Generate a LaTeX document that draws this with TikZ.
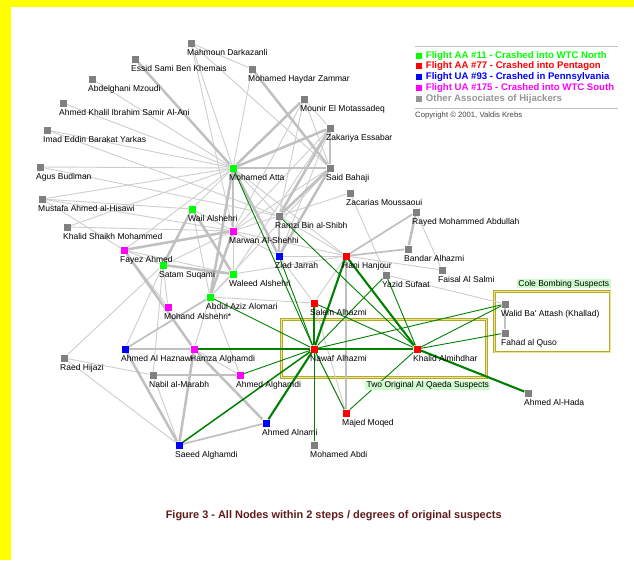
\documentclass[tikz,border=0pt]{standalone}
\usepackage{fontspec}
\setmainfont{Liberation Sans}
\newfontfamily\labfont{Liberation Sans}
\pgfdeclarelayer{paper}
\pgfdeclarelayer{edges}
\pgfsetlayers{paper,edges,main}

\definecolor{ngreen}{RGB}{0,255,0}
\definecolor{nred}{RGB}{255,0,0}
\definecolor{nblue}{RGB}{0,0,255}
\definecolor{nmag}{RGB}{255,0,255}
\definecolor{ngray}{RGB}{128,128,128}
\definecolor{tgray}{RGB}{150,150,150}
\definecolor{lgray}{RGB}{206,206,206}
\definecolor{hgray}{RGB}{192,192,192}
\definecolor{dgreen}{RGB}{0,128,0}
\definecolor{oliveA}{RGB}{180,170,40}
\definecolor{oliveB}{RGB}{235,230,150}
\definecolor{tagbg}{RGB}{206,250,206}
\definecolor{capcol}{RGB}{96,26,26}
\definecolor{yel}{RGB}{255,255,0}
\definecolor{rulecol}{RGB}{192,192,192}

\tikzset{
  sq/.style={rectangle, minimum size=7pt, inner sep=0pt, draw=none},
  lbl/.style={anchor=base west, inner sep=0pt, font=\labfont\fontsize{8.5}{10}\selectfont},
  gl/.style={draw=lgray, line width=0.9pt},
  gm/.style={draw=hgray, line width=1.7pt},
  gh/.style={draw=hgray, line width=2.5pt},
  el/.style={draw=dgreen, line width=0.9pt},
  em/.style={draw=dgreen, line width=1.5pt},
  eh/.style={draw=dgreen, line width=2.1pt},
  tag/.style={fill=tagbg, inner xsep=1.5pt, inner ysep=0.6pt, font=\labfont\fontsize{8.5}{10}\selectfont},
  legsq/.style={rectangle, minimum size=6pt, inner sep=0pt},
  legtxt/.style={anchor=west, inner sep=0pt, font=\labfont\bfseries\fontsize{9.6}{11}\selectfont},
}

% a person: square marker plus its name below right
\newcommand\person[5]{%
  \node[sq, fill=#4] (#1) at (#2,#3) {};
  \node[lbl] (#1-t) at (#2-4,#3+12) {#5};
}

\begin{document}
\begin{tikzpicture}[x=1pt,y=-1pt]
\useasboundingbox (0,0) rectangle (634,560);
\begin{pgfonlayer}{paper}
  \fill[white] (0,0) rectangle (634,560);
  \fill[yel] (0,0) rectangle (11,560);
  \fill[yel] (0,0) rectangle (634,7);
\end{pgfonlayer}

% people
\person{md}{191}{43}{ngray}{Mahmoun Darkazanli}
\person{es}{135}{59}{ngray}{Essid Sami Ben Khemais}
\person{mz}{252}{69}{ngray}{Mohamed Haydar Zammar}
\person{am}{92}{79}{ngray}{Abdelghani Mzoudi}
\person{mm}{304}{99}{ngray}{Mounir El Motassadeq}
\person{ak}{63}{103}{ngray}{Ahmed Khalil Ibrahim Samir Al-Ani}
\person{ze}{330}{128}{ngray}{Zakariya Essabar}
\person{iy}{47}{130}{ngray}{Imad Eddin Barakat Yarkas}
\person{ab}{40}{167}{ngray}{Agus Budiman}
\person{ma}{233}{168}{ngreen}{Mohamed Atta}
\person{sb}{330}{168}{ngray}{Said Bahaji}
\person{zm}{350}{193}{ngray}{Zacarias Moussaoui}
\person{mh}{42}{199}{ngray}{Mustafa Ahmed al-Hisawi}
\person{wa}{192}{209}{ngreen}{Wail Alshehri}
\person{ra}{416}{212}{ngray}{Rayed Mohammed Abdullah}
\person{rb}{279}{216}{ngray}{Ramzi Bin al-Shibh}
\person{ks}{67}{227}{ngray}{Khalid Shaikh Mohammed}
\person{ms}{233}{231}{nmag}{Marwan Al-Shehhi}
\person{fa}{124}{250}{nmag}{Fayez Ahmed}
\person{ba}{408}{249}{ngray}{Bandar Alhazmi}
\person{zj}{279}{256}{nblue}{Ziad Jarrah}
\person{hh}{346}{256}{nred}{Hani Hanjour}
\person{ss}{163}{265}{ngreen}{Satam Suqami}
\person{fs}{442}{270}{ngray}{Faisal Al Salmi}
\person{ys}{386}{275}{ngray}{Yazid Sufaat}
\person{ws}{233}{274}{ngreen}{Waleed Alshehri}
\person{aa}{210}{297}{ngreen}{Abdul Aziz Alomari}
\person{sh}{314}{303}{nred}{Salem Alhazmi}
\person{mo}{168}{307}{nmag}{Mohand Alshehri*}
\person{wb}{505}{304}{ngray}{Walid Ba' Attash (Khallad)}
\person{fq}{505}{333}{ngray}{Fahad al Quso}
\person{ah}{125}{349}{nblue}{Ahmed Al Haznawi}
\person{ha}{194}{349}{nmag}{Hamza Alghamdi}
\person{na}{314}{349}{nred}{Nawaf Alhazmi}
\person{ka}{417}{349}{nred}{Khalid Almihdhar}
\person{rh}{64}{358}{ngray}{Raed Hijazi}
\person{nm}{153}{375}{ngray}{Nabil al-Marabh}
\person{ag}{240}{375}{nmag}{Ahmed Alghamdi}
\person{hd}{528}{393}{ngray}{Ahmed Al-Hada}
\person{mq}{346}{413}{nred}{Majed Moqed}
\person{an}{266}{423}{nblue}{Ahmed Alnami}
\person{sa}{179}{445}{nblue}{Saeed Alghamdi}
\person{mb}{314}{445}{ngray}{Mohamed Abdi}

\begin{pgfonlayer}{edges}
  % suspect groups
  \draw[oliveA, line width=2.6pt] (281.7,319.3) rectangle (486.7,377.7);
  \draw[oliveB, line width=0.8pt] (281.7,319.3) rectangle (486.7,377.7);
  \draw[oliveA, line width=2.6pt] (494.3,291.3) rectangle (610,352);
  \draw[oliveB, line width=0.8pt] (494.3,291.3) rectangle (610,352);

  % weak ties
  \foreach \a/\b in {md/mz, md/ma, md/sb, md/ms, am/ma, ak/ma, iy/ma, iy/rb,
      ab/ma, ab/rb, mh/ma, mh/fa, mh/ms, mh/wa, ks/ms, ks/ma, mz/ma,
      mm/sb, mm/ze, mm/rb, mm/ms, ze/ms, ze/zj, ze/ws, ma/rb, ma/wa, ma/fa,
      ma/hh, sb/ms, sb/aa, rb/ms, rb/hh, zm/rb, zm/ys, ms/zj, ms/ws, ms/wa,
      ms/ss, ms/hh, wa/aa, ss/mo, ss/nm, ss/ah, rh/ss, fa/ws, fa/ss, fa/mo,
      ws/aa, ws/hh, aa/ha, aa/ag, aa/sh, ha/ag, sa/rh, sa/nm, rh/nm, hh/zj,
      hh/fs, hh/sh, ra/fs, ys/wb, sh/mq, sh/zj}
    \draw[gl] (\a) -- (\b);
  % medium ties
  \foreach \a/\b in {ah/aa, sa/an, nm/ag, hh/ra, hh/ba}
    \draw[gm] (\a) -- (\b);
  % strong ties
  \foreach \a/\b in {ma/sb, ma/ze, ma/mm, es/ma, ma/ms, ma/aa, ma/zj, ze/sb,
      mz/sb, sb/rb, sb/zj, ze/rb, rb/zj, ms/aa, ms/fa, wa/ss, wa/ws, ss/ws,
      fa/ha, ha/an, ha/sa, ah/ha, ah/sa, hh/mq, ra/ba, wb/fq}
    \draw[gh] (\a) -- (\b);
  % ties of the original suspects
  \foreach \a/\b in {ma/na, zj/na, aa/na, ag/na, mb/na, mq/na, ys/na, ys/ka,
      wb/na, wb/ka, fq/ka, sh/ka, mq/ka, rb/ka}
    \draw[el] (\a) -- (\b);
  \draw[em] (sa) -- (na);
  \foreach \a/\b in {ha/na, na/ka, sh/na, hh/na, hh/ka, ka/hd, an/na}
    \draw[eh] (\a) -- (\b);
\end{pgfonlayer}

\node[tag] (qaeda) at (427.8,385.5) {Two Original Al Qaeda Suspects};
\node[tag] (cole) at (563.8,283.8) {Cole Bombing Suspects};

% legend
\draw[rulecol, line width=1pt] (415,46.7) -- (618,46.7);
\draw[rulecol, line width=1pt] (415,108.7) -- (618,108.7);
\node[legsq, fill=ngreen] (k1) at (419,55.7) {};
\node[legtxt, text=ngreen] (k1t) at (425.7,55.7) {Flight AA \#11 - Crashed into WTC North};
\node[legsq, fill=nred] (k2) at (419,66.3) {};
\node[legtxt, text=nred] (k2t) at (425.7,66.3) {Flight AA \#77 - Crashed into Pentagon};
\node[legsq, fill=nblue] (k3) at (419,77) {};
\node[legtxt, text=nblue] (k3t) at (425.7,77) {Flight UA \#93 - Crashed in Pennsylvania};
\node[legsq, fill=nmag] (k4) at (419,88) {};
\node[legtxt, text=nmag] (k4t) at (425.7,88) {Flight UA \#175 - Crashed into WTC South};
\node[legsq, fill=tgray] (k5) at (419,99.3) {};
\node[legtxt, text=tgray] (k5t) at (425.7,99.3) {Other Associates of Hijackers};
\node[anchor=west, inner sep=0pt, text={rgb,255:red,70;green,70;blue,70},
      font=\labfont\fontsize{7.7}{9}\selectfont] (copy) at (415,116) {Copyright © 2001, Valdis Krebs};

% caption
\node[inner sep=0pt, text=capcol, font=\labfont\bfseries\fontsize{10.95}{13}\selectfont]
  (caption) at (333.7,515.3) {Figure 3 - All Nodes within 2 steps / degrees of original suspects};
\end{tikzpicture}
\end{document}
